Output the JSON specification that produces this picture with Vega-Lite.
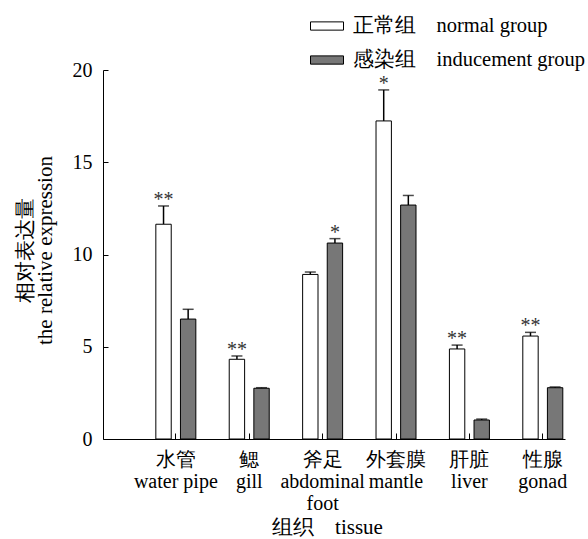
{
  "$schema": "https://vega.github.io/schema/vega-lite/v6.json",
  "width": 462,
  "height": 369,
  "autosize": {"type": "none"},
  "padding": {"left": 103, "top": 70, "right": 23, "bottom": 100},
  "background": "white",
  "config": {
    "font": "Times New Roman, Liberation Serif, DejaVu Serif, serif",
    "view": {"stroke": null},
    "axis": {"labelFont": "Times New Roman, Liberation Serif, DejaVu Serif, serif", "titleFont": "Times New Roman, Liberation Serif, DejaVu Serif, serif", "labelColor": "black", "titleColor": "black", "domainColor": "black", "tickColor": "black", "labelFontSize": 20, "titleFontSize": 21, "titleFontWeight": "normal", "grid": false},
    "legend": {"labelFont": "Times New Roman, Liberation Serif, DejaVu Serif, serif", "labelFontSize": 20.5, "labelColor": "black", "labelLimit": 0}
  },
  "data": {"values": [
    {"tissue": "水管|water pipe", "group": "正常组\u2003normal group", "value": 11.64, "err": 12.63, "sig": "**"},
    {"tissue": "水管|water pipe", "group": "感染组\u2003inducement group", "value": 6.50, "err": 7.03, "sig": ""},
    {"tissue": "鳃|gill", "group": "正常组\u2003normal group", "value": 4.32, "err": 4.50, "sig": "**"},
    {"tissue": "鳃|gill", "group": "感染组\u2003inducement group", "value": 2.75, "err": 2.78, "sig": ""},
    {"tissue": "斧足|abdominal|foot", "group": "正常组\u2003normal group", "value": 8.92, "err": 9.05, "sig": ""},
    {"tissue": "斧足|abdominal|foot", "group": "感染组\u2003inducement group", "value": 10.62, "err": 10.86, "sig": "*"},
    {"tissue": "外套膜|mantle", "group": "正常组\u2003normal group", "value": 17.24, "err": 18.92, "sig": "*"},
    {"tissue": "外套膜|mantle", "group": "感染组\u2003inducement group", "value": 12.68, "err": 13.20, "sig": ""},
    {"tissue": "肝脏|liver", "group": "正常组\u2003normal group", "value": 4.88, "err": 5.09, "sig": "**"},
    {"tissue": "肝脏|liver", "group": "感染组\u2003inducement group", "value": 1.03, "err": 1.08, "sig": ""},
    {"tissue": "性腺|gonad", "group": "正常组\u2003normal group", "value": 5.58, "err": 5.78, "sig": "**"},
    {"tissue": "性腺|gonad", "group": "感染组\u2003inducement group", "value": 2.78, "err": 2.82, "sig": ""}
  ]},
  "encoding": {
    "x": {
      "field": "tissue", "type": "nominal", "sort": null,
      "scale": {"paddingInner": 0.455, "paddingOuter": 0.375, "align": 0.96},
      "axis": {"title": "组织\u2003tissue", "titleX": 224, "labelAngle": 0, "labelExpr": "split(datum.value, '|')", "labelLineHeight": 22, "tickSize": -6, "labelPadding": 16, "titlePadding": 3, "labelBaseline": "top", "domainWidth": 1}
    },
    "xOffset": {"field": "group", "type": "nominal", "sort": null, "scale": {"paddingInner": 0.375, "paddingOuter": 0}},
    "y": {
      "type": "quantitative",
      "scale": {"domain": [0, 20], "nice": false},
      "axis": {"title": ["相对表达量", "the relative expression"], "titleY": 180, "values": [0, 5, 10, 15, 20], "tickSize": -5, "labelPadding": 16, "titleLineHeight": 20, "titlePadding": 17, "domainWidth": 1}
    }
  },
  "layer": [
    {
      "mark": {"type": "rule", "color": "black", "strokeWidth": 1.5},
      "encoding": {"y": {"field": "value", "type": "quantitative"}, "y2": {"field": "err"}}
    },
    {
      "mark": {"type": "tick", "color": "black", "thickness": 1.5, "size": 11, "orient": "horizontal"},
      "encoding": {"y": {"field": "err", "type": "quantitative"}}
    },
    {
      "mark": {"type": "bar", "stroke": "black", "strokeWidth": 1},
      "encoding": {
        "y": {"field": "value", "type": "quantitative"},
        "fill": {
          "field": "group", "type": "nominal", "sort": null,
          "scale": {"domain": ["正常组\u2003normal group", "感染组\u2003inducement group"], "range": ["white", "#777777"]},
          "legend": {"title": null, "orient": "none", "legendX": 207, "legendY": -61, "symbolType": "M-1,-0.25H1V0.25H-1Z", "symbolSize": 1089, "symbolStrokeColor": "black", "symbolStrokeWidth": 1, "rowPadding": 6, "labelOffset": 9, "padding": 0}
        }
      }
    },
    {
      "transform": [{"filter": "datum.sig != ''"}],
      "mark": {"type": "text", "fontSize": 20, "baseline": "alphabetic", "dy": 0, "color": "#333"},
      "encoding": {"y": {"field": "err", "type": "quantitative"}, "text": {"field": "sig"}}
    }
  ]
}
